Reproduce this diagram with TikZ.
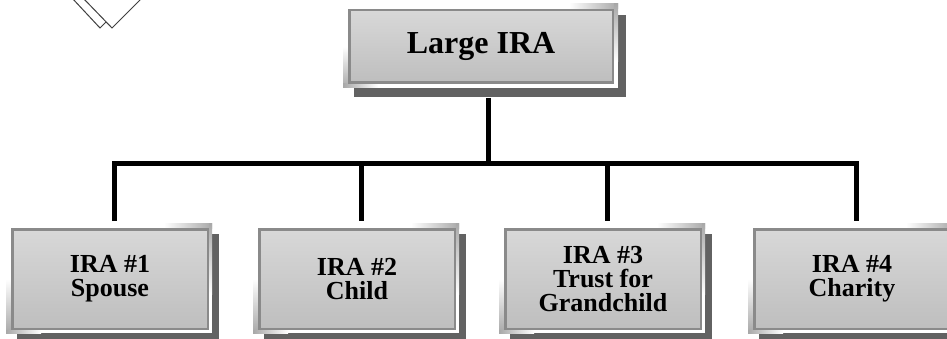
\documentclass[tikz,border=0pt]{standalone}
\usepackage{fontspec}
\setmainfont{Liberation Serif}
\usetikzlibrary{calc,backgrounds}
\definecolor{boxtop}{HTML}{D8D8D8}
\definecolor{boxbot}{HTML}{BEBEBE}
\definecolor{boxline}{HTML}{8A8A8A}
\definecolor{shadowc}{HTML}{626262}
\definecolor{glowc}{HTML}{A8A8A8}
\definecolor{chevline}{HTML}{404040}
\tikzset{
  irabox/.style={draw=boxline, line width=2.5pt, top color=boxtop, bottom color=boxbot,
    inner sep=0pt, align=center, font=\bfseries\fontsize{26}{24}\selectfont,
    minimum width=195.5pt, minimum height=99.5pt},
  topbox/.style={irabox, font=\bfseries\fontsize{32}{38}\selectfont,
    minimum width=263.5pt, minimum height=72.5pt},
  conn/.style={line width=5pt, draw=black, line join=miter},
  chev/.style={draw=chevline, line width=1pt, fill=white, line join=miter}
}
\newcommand\boxdeco[4]{% node, white gap, shadow far offset x, shadow far offset y
  \fill[shadowc] ($(#1.north west)+(6,6)$) rectangle ($(#1.south east)+(#3,#4)$);
  \fill[white] ($(#1.north west)+(-5,-5)$) rectangle ($(#1.south east)+(#2,#2)$);
  \shade[left color=white, right color=glowc] ($(#1.north east)+(-45,-5)$) rectangle ($(#1.north east)+(#2,0)$);
  \shade[top color=glowc, bottom color=white] ($(#1.north east)+(0,-5)$) rectangle ($(#1.east)+(#2,15)$);
  \shade[top color=white, bottom color=glowc] ($(#1.west)+(-5,0)$) rectangle ($(#1.south west)+(0,#2)$);
  \shade[left color=glowc, right color=white] ($(#1.south west)+(-5,0)$) rectangle ($(#1.south west)+(30,#2)$);
}
\begin{document}
\begin{tikzpicture}[x=1pt,y=-1pt]
\useasboundingbox (0,0) rectangle (947,339);
% chevrons in the top-left corner
\draw[chev] (72,-2) -- (100,28) -- (130,-2);
\draw[chev] (83,-2) -- (112,28) -- (142,-2);
% boxes
\node[topbox] (top) at (481,46.5) {Large IRA};
\node[irabox] (b1) at (110,279) {IRA \#1\\Spouse};
\node[irabox] (b2) at (357,279) {IRA \#2\\Child};
\node[irabox] (b3) at (603,279) {IRA \#3\\Trust for\\Grandchild};
\node[irabox] (b4) at (852,279) {IRA \#4\\Charity};
\begin{pgfonlayer}{background}
  \fill[white] (0,0) rectangle (947,339);
  \boxdeco{top}{4}{12}{13}
  \boxdeco{b1}{3}{10}{9}
  \boxdeco{b2}{3}{10}{9}
  \boxdeco{b3}{3}{10}{9}
  \boxdeco{b4}{3}{10}{9}
\end{pgfonlayer}
% connectors
\coordinate (hl) at ($(top.south)+(7,80)$);
\coordinate (t1) at ($(b1.north)+(4,-7)$);
\coordinate (t2) at ($(b2.north)+(4,-7)$);
\coordinate (t3) at ($(b3.north)+(4,-7)$);
\coordinate (t4) at ($(b4.north)+(4,-7)$);
\draw[conn] ($(top.south)+(7,14)$) -- (hl);
\draw[conn] (t1) |- (hl) -| (t4);
\draw[conn] (hl -| t2) -- (t2);
\draw[conn] (hl -| t3) -- (t3);
\end{tikzpicture}
\end{document}
